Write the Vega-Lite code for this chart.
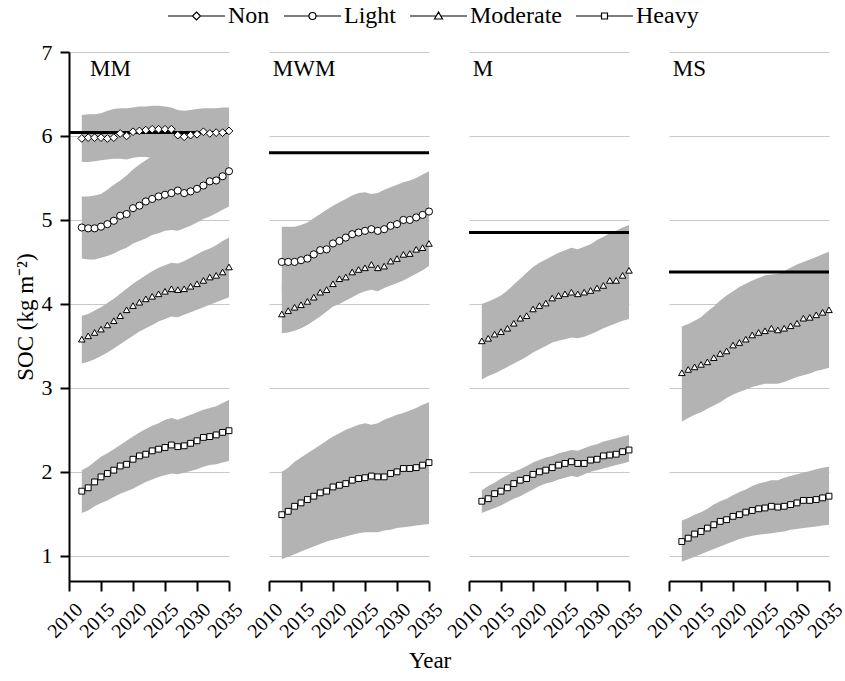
{
 "$schema": "https://vega.github.io/schema/vega-lite/v6.json",
 "background": "white",
 "padding": {"left": 14, "top": 4, "right": 3, "bottom": 6},
 "bounds": "flush",
 "spacing": 40,
 "config": {
  "view": {"stroke": null},
  "font": "Liberation Serif",
  "axis": {"labelColor": "black", "titleColor": "black", "labelFont": "Liberation Serif", "titleFont": "Liberation Serif", "titleFontWeight": "normal"},
  "axisX": {"labelAngle": -45, "grid": false, "tickSize": 10, "tickWidth": 2, "domainWidth": 2, "tickColor": "black", "domainColor": "black", "labelFontSize": 20, "labelPadding": 8, "labelOffset": 3, "labelFlush": false, "labelOverlap": false},
  "axisY": {"tickCount": 7, "titleFontSize": 23, "titlePadding": 4, "labelFontSize": 22, "labelPadding": 8, "tickSize": 9, "tickWidth": 2, "domainWidth": 2, "tickColor": "black", "domainColor": "black", "grid": true, "gridColor": "#c8c8c8", "gridWidth": 1}
 },
 "title": {"text": "Year", "orient": "bottom", "anchor": "middle", "fontSize": 23, "fontWeight": "normal", "font": "Liberation Serif", "color": "black", "offset": 9},
 "resolve": {"scale": {"shape": "independent"}, "legend": {"shape": "independent"}},
 "datasets": {
  "refs": [
   {"p": "MM", "ref": 6.04},
   {"p": "MWM", "ref": 5.80},
   {"p": "M", "ref": 4.85},
   {"p": "MS", "ref": 4.38}
  ],
  "series": [
   {"p":"MM","s":"Non","yr":2012,"v":5.97,"lo":5.69,"hi":6.25},
   {"p":"MM","s":"Non","yr":2013,"v":5.98,"lo":5.69,"hi":6.26},
   {"p":"MM","s":"Non","yr":2014,"v":5.98,"lo":5.70,"hi":6.26},
   {"p":"MM","s":"Non","yr":2015,"v":5.98,"lo":5.71,"hi":6.27},
   {"p":"MM","s":"Non","yr":2016,"v":5.97,"lo":5.72,"hi":6.30},
   {"p":"MM","s":"Non","yr":2017,"v":5.98,"lo":5.73,"hi":6.32},
   {"p":"MM","s":"Non","yr":2018,"v":6.03,"lo":5.73,"hi":6.33},
   {"p":"MM","s":"Non","yr":2019,"v":6.00,"lo":5.72,"hi":6.33},
   {"p":"MM","s":"Non","yr":2020,"v":6.05,"lo":5.74,"hi":6.34},
   {"p":"MM","s":"Non","yr":2021,"v":6.06,"lo":5.75,"hi":6.35},
   {"p":"MM","s":"Non","yr":2022,"v":6.07,"lo":5.75,"hi":6.35},
   {"p":"MM","s":"Non","yr":2023,"v":6.08,"lo":5.74,"hi":6.36},
   {"p":"MM","s":"Non","yr":2024,"v":6.08,"lo":5.74,"hi":6.36},
   {"p":"MM","s":"Non","yr":2025,"v":6.08,"lo":5.75,"hi":6.35},
   {"p":"MM","s":"Non","yr":2026,"v":6.08,"lo":5.74,"hi":6.34},
   {"p":"MM","s":"Non","yr":2027,"v":6.01,"lo":5.72,"hi":6.31},
   {"p":"MM","s":"Non","yr":2028,"v":5.99,"lo":5.72,"hi":6.30},
   {"p":"MM","s":"Non","yr":2029,"v":6.01,"lo":5.73,"hi":6.31},
   {"p":"MM","s":"Non","yr":2030,"v":6.02,"lo":5.74,"hi":6.32},
   {"p":"MM","s":"Non","yr":2031,"v":6.05,"lo":5.75,"hi":6.33},
   {"p":"MM","s":"Non","yr":2032,"v":6.03,"lo":5.75,"hi":6.33},
   {"p":"MM","s":"Non","yr":2033,"v":6.04,"lo":5.76,"hi":6.33},
   {"p":"MM","s":"Non","yr":2034,"v":6.04,"lo":5.76,"hi":6.34},
   {"p":"MM","s":"Non","yr":2035,"v":6.06,"lo":5.76,"hi":6.34},

   {"p":"MM","s":"Light","yr":2012,"v":4.91,"lo":4.54,"hi":5.28},
   {"p":"MM","s":"Light","yr":2013,"v":4.90,"lo":4.53,"hi":5.28},
   {"p":"MM","s":"Light","yr":2014,"v":4.90,"lo":4.53,"hi":5.29},
   {"p":"MM","s":"Light","yr":2015,"v":4.92,"lo":4.55,"hi":5.31},
   {"p":"MM","s":"Light","yr":2016,"v":4.95,"lo":4.57,"hi":5.36},
   {"p":"MM","s":"Light","yr":2017,"v":4.99,"lo":4.60,"hi":5.42},
   {"p":"MM","s":"Light","yr":2018,"v":5.05,"lo":4.64,"hi":5.47},
   {"p":"MM","s":"Light","yr":2019,"v":5.07,"lo":4.67,"hi":5.53},
   {"p":"MM","s":"Light","yr":2020,"v":5.14,"lo":4.72,"hi":5.60},
   {"p":"MM","s":"Light","yr":2021,"v":5.17,"lo":4.75,"hi":5.66},
   {"p":"MM","s":"Light","yr":2022,"v":5.22,"lo":4.78,"hi":5.71},
   {"p":"MM","s":"Light","yr":2023,"v":5.25,"lo":4.82,"hi":5.76},
   {"p":"MM","s":"Light","yr":2024,"v":5.28,"lo":4.84,"hi":5.82},
   {"p":"MM","s":"Light","yr":2025,"v":5.30,"lo":4.87,"hi":5.86},
   {"p":"MM","s":"Light","yr":2026,"v":5.32,"lo":4.88,"hi":5.88},
   {"p":"MM","s":"Light","yr":2027,"v":5.35,"lo":4.87,"hi":5.87},
   {"p":"MM","s":"Light","yr":2028,"v":5.32,"lo":4.90,"hi":5.90},
   {"p":"MM","s":"Light","yr":2029,"v":5.34,"lo":4.93,"hi":5.93},
   {"p":"MM","s":"Light","yr":2030,"v":5.37,"lo":4.97,"hi":5.96},
   {"p":"MM","s":"Light","yr":2031,"v":5.41,"lo":5.01,"hi":5.99},
   {"p":"MM","s":"Light","yr":2032,"v":5.46,"lo":5.04,"hi":6.02},
   {"p":"MM","s":"Light","yr":2033,"v":5.47,"lo":5.08,"hi":6.05},
   {"p":"MM","s":"Light","yr":2034,"v":5.52,"lo":5.12,"hi":6.08},
   {"p":"MM","s":"Light","yr":2035,"v":5.58,"lo":5.16,"hi":6.12},

   {"p":"MM","s":"Moderate","yr":2012,"v":3.58,"lo":3.29,"hi":3.86},
   {"p":"MM","s":"Moderate","yr":2013,"v":3.62,"lo":3.31,"hi":3.88},
   {"p":"MM","s":"Moderate","yr":2014,"v":3.66,"lo":3.34,"hi":3.92},
   {"p":"MM","s":"Moderate","yr":2015,"v":3.70,"lo":3.38,"hi":3.96},
   {"p":"MM","s":"Moderate","yr":2016,"v":3.75,"lo":3.42,"hi":4.01},
   {"p":"MM","s":"Moderate","yr":2017,"v":3.80,"lo":3.47,"hi":4.06},
   {"p":"MM","s":"Moderate","yr":2018,"v":3.86,"lo":3.52,"hi":4.12},
   {"p":"MM","s":"Moderate","yr":2019,"v":3.93,"lo":3.57,"hi":4.18},
   {"p":"MM","s":"Moderate","yr":2020,"v":3.98,"lo":3.62,"hi":4.24},
   {"p":"MM","s":"Moderate","yr":2021,"v":4.02,"lo":3.67,"hi":4.29},
   {"p":"MM","s":"Moderate","yr":2022,"v":4.06,"lo":3.71,"hi":4.34},
   {"p":"MM","s":"Moderate","yr":2023,"v":4.09,"lo":3.75,"hi":4.39},
   {"p":"MM","s":"Moderate","yr":2024,"v":4.12,"lo":3.79,"hi":4.43},
   {"p":"MM","s":"Moderate","yr":2025,"v":4.15,"lo":3.82,"hi":4.46},
   {"p":"MM","s":"Moderate","yr":2026,"v":4.18,"lo":3.85,"hi":4.49},
   {"p":"MM","s":"Moderate","yr":2027,"v":4.17,"lo":3.84,"hi":4.48},
   {"p":"MM","s":"Moderate","yr":2028,"v":4.18,"lo":3.87,"hi":4.51},
   {"p":"MM","s":"Moderate","yr":2029,"v":4.21,"lo":3.90,"hi":4.55},
   {"p":"MM","s":"Moderate","yr":2030,"v":4.24,"lo":3.93,"hi":4.59},
   {"p":"MM","s":"Moderate","yr":2031,"v":4.28,"lo":3.96,"hi":4.63},
   {"p":"MM","s":"Moderate","yr":2032,"v":4.32,"lo":3.99,"hi":4.66},
   {"p":"MM","s":"Moderate","yr":2033,"v":4.34,"lo":4.02,"hi":4.70},
   {"p":"MM","s":"Moderate","yr":2034,"v":4.38,"lo":4.05,"hi":4.75},
   {"p":"MM","s":"Moderate","yr":2035,"v":4.44,"lo":4.08,"hi":4.79},

   {"p":"MM","s":"Heavy","yr":2012,"v":1.77,"lo":1.51,"hi":2.02},
   {"p":"MM","s":"Heavy","yr":2013,"v":1.81,"lo":1.54,"hi":2.06},
   {"p":"MM","s":"Heavy","yr":2014,"v":1.88,"lo":1.59,"hi":2.12},
   {"p":"MM","s":"Heavy","yr":2015,"v":1.94,"lo":1.63,"hi":2.18},
   {"p":"MM","s":"Heavy","yr":2016,"v":1.98,"lo":1.66,"hi":2.22},
   {"p":"MM","s":"Heavy","yr":2017,"v":2.02,"lo":1.70,"hi":2.27},
   {"p":"MM","s":"Heavy","yr":2018,"v":2.07,"lo":1.74,"hi":2.32},
   {"p":"MM","s":"Heavy","yr":2019,"v":2.09,"lo":1.77,"hi":2.37},
   {"p":"MM","s":"Heavy","yr":2020,"v":2.15,"lo":1.80,"hi":2.42},
   {"p":"MM","s":"Heavy","yr":2021,"v":2.19,"lo":1.84,"hi":2.47},
   {"p":"MM","s":"Heavy","yr":2022,"v":2.21,"lo":1.88,"hi":2.51},
   {"p":"MM","s":"Heavy","yr":2023,"v":2.25,"lo":1.91,"hi":2.55},
   {"p":"MM","s":"Heavy","yr":2024,"v":2.27,"lo":1.94,"hi":2.58},
   {"p":"MM","s":"Heavy","yr":2025,"v":2.29,"lo":1.96,"hi":2.62},
   {"p":"MM","s":"Heavy","yr":2026,"v":2.32,"lo":1.98,"hi":2.64},
   {"p":"MM","s":"Heavy","yr":2027,"v":2.30,"lo":1.97,"hi":2.62},
   {"p":"MM","s":"Heavy","yr":2028,"v":2.31,"lo":1.99,"hi":2.65},
   {"p":"MM","s":"Heavy","yr":2029,"v":2.34,"lo":2.01,"hi":2.68},
   {"p":"MM","s":"Heavy","yr":2030,"v":2.37,"lo":2.03,"hi":2.71},
   {"p":"MM","s":"Heavy","yr":2031,"v":2.41,"lo":2.06,"hi":2.74},
   {"p":"MM","s":"Heavy","yr":2032,"v":2.42,"lo":2.08,"hi":2.76},
   {"p":"MM","s":"Heavy","yr":2033,"v":2.44,"lo":2.09,"hi":2.78},
   {"p":"MM","s":"Heavy","yr":2034,"v":2.47,"lo":2.11,"hi":2.82},
   {"p":"MM","s":"Heavy","yr":2035,"v":2.49,"lo":2.13,"hi":2.86},

   {"p":"MWM","s":"Light","yr":2012,"v":4.50,"lo":4.15,"hi":4.92},
   {"p":"MWM","s":"Light","yr":2013,"v":4.50,"lo":4.15,"hi":4.92},
   {"p":"MWM","s":"Light","yr":2014,"v":4.50,"lo":4.15,"hi":4.92},
   {"p":"MWM","s":"Light","yr":2015,"v":4.52,"lo":4.17,"hi":4.94},
   {"p":"MWM","s":"Light","yr":2016,"v":4.54,"lo":4.19,"hi":4.97},
   {"p":"MWM","s":"Light","yr":2017,"v":4.59,"lo":4.24,"hi":5.02},
   {"p":"MWM","s":"Light","yr":2018,"v":4.64,"lo":4.29,"hi":5.07},
   {"p":"MWM","s":"Light","yr":2019,"v":4.65,"lo":4.30,"hi":5.12},
   {"p":"MWM","s":"Light","yr":2020,"v":4.72,"lo":4.37,"hi":5.17},
   {"p":"MWM","s":"Light","yr":2021,"v":4.75,"lo":4.40,"hi":5.21},
   {"p":"MWM","s":"Light","yr":2022,"v":4.79,"lo":4.44,"hi":5.25},
   {"p":"MWM","s":"Light","yr":2023,"v":4.83,"lo":4.48,"hi":5.29},
   {"p":"MWM","s":"Light","yr":2024,"v":4.85,"lo":4.50,"hi":5.32},
   {"p":"MWM","s":"Light","yr":2025,"v":4.87,"lo":4.52,"hi":5.33},
   {"p":"MWM","s":"Light","yr":2026,"v":4.89,"lo":4.54,"hi":5.31},
   {"p":"MWM","s":"Light","yr":2027,"v":4.87,"lo":4.52,"hi":5.32},
   {"p":"MWM","s":"Light","yr":2028,"v":4.89,"lo":4.54,"hi":5.36},
   {"p":"MWM","s":"Light","yr":2029,"v":4.93,"lo":4.58,"hi":5.39},
   {"p":"MWM","s":"Light","yr":2030,"v":4.95,"lo":4.60,"hi":5.42},
   {"p":"MWM","s":"Light","yr":2031,"v":5.00,"lo":4.65,"hi":5.45},
   {"p":"MWM","s":"Light","yr":2032,"v":5.00,"lo":4.65,"hi":5.47},
   {"p":"MWM","s":"Light","yr":2033,"v":5.03,"lo":4.68,"hi":5.50},
   {"p":"MWM","s":"Light","yr":2034,"v":5.06,"lo":4.71,"hi":5.54},
   {"p":"MWM","s":"Light","yr":2035,"v":5.10,"lo":4.75,"hi":5.58},

   {"p":"MWM","s":"Moderate","yr":2012,"v":3.88,"lo":3.65,"hi":4.23},
   {"p":"MWM","s":"Moderate","yr":2013,"v":3.92,"lo":3.66,"hi":4.27},
   {"p":"MWM","s":"Moderate","yr":2014,"v":3.96,"lo":3.68,"hi":4.31},
   {"p":"MWM","s":"Moderate","yr":2015,"v":3.99,"lo":3.71,"hi":4.34},
   {"p":"MWM","s":"Moderate","yr":2016,"v":4.03,"lo":3.75,"hi":4.38},
   {"p":"MWM","s":"Moderate","yr":2017,"v":4.08,"lo":3.80,"hi":4.43},
   {"p":"MWM","s":"Moderate","yr":2018,"v":4.14,"lo":3.85,"hi":4.49},
   {"p":"MWM","s":"Moderate","yr":2019,"v":4.17,"lo":3.91,"hi":4.52},
   {"p":"MWM","s":"Moderate","yr":2020,"v":4.24,"lo":3.97,"hi":4.59},
   {"p":"MWM","s":"Moderate","yr":2021,"v":4.30,"lo":4.00,"hi":4.65},
   {"p":"MWM","s":"Moderate","yr":2022,"v":4.32,"lo":4.04,"hi":4.67},
   {"p":"MWM","s":"Moderate","yr":2023,"v":4.38,"lo":4.08,"hi":4.73},
   {"p":"MWM","s":"Moderate","yr":2024,"v":4.41,"lo":4.12,"hi":4.76},
   {"p":"MWM","s":"Moderate","yr":2025,"v":4.43,"lo":4.15,"hi":4.78},
   {"p":"MWM","s":"Moderate","yr":2026,"v":4.47,"lo":4.17,"hi":4.82},
   {"p":"MWM","s":"Moderate","yr":2027,"v":4.43,"lo":4.15,"hi":4.78},
   {"p":"MWM","s":"Moderate","yr":2028,"v":4.45,"lo":4.19,"hi":4.80},
   {"p":"MWM","s":"Moderate","yr":2029,"v":4.51,"lo":4.22,"hi":4.86},
   {"p":"MWM","s":"Moderate","yr":2030,"v":4.54,"lo":4.25,"hi":4.89},
   {"p":"MWM","s":"Moderate","yr":2031,"v":4.59,"lo":4.28,"hi":4.94},
   {"p":"MWM","s":"Moderate","yr":2032,"v":4.60,"lo":4.32,"hi":4.95},
   {"p":"MWM","s":"Moderate","yr":2033,"v":4.65,"lo":4.36,"hi":5.00},
   {"p":"MWM","s":"Moderate","yr":2034,"v":4.67,"lo":4.40,"hi":5.02},
   {"p":"MWM","s":"Moderate","yr":2035,"v":4.72,"lo":4.45,"hi":5.07},

   {"p":"MWM","s":"Heavy","yr":2012,"v":1.49,"lo":0.96,"hi":2.00},
   {"p":"MWM","s":"Heavy","yr":2013,"v":1.53,"lo":0.99,"hi":2.05},
   {"p":"MWM","s":"Heavy","yr":2014,"v":1.59,"lo":1.02,"hi":2.12},
   {"p":"MWM","s":"Heavy","yr":2015,"v":1.63,"lo":1.05,"hi":2.17},
   {"p":"MWM","s":"Heavy","yr":2016,"v":1.67,"lo":1.08,"hi":2.22},
   {"p":"MWM","s":"Heavy","yr":2017,"v":1.71,"lo":1.11,"hi":2.27},
   {"p":"MWM","s":"Heavy","yr":2018,"v":1.75,"lo":1.14,"hi":2.32},
   {"p":"MWM","s":"Heavy","yr":2019,"v":1.77,"lo":1.17,"hi":2.37},
   {"p":"MWM","s":"Heavy","yr":2020,"v":1.82,"lo":1.19,"hi":2.42},
   {"p":"MWM","s":"Heavy","yr":2021,"v":1.84,"lo":1.21,"hi":2.46},
   {"p":"MWM","s":"Heavy","yr":2022,"v":1.86,"lo":1.23,"hi":2.50},
   {"p":"MWM","s":"Heavy","yr":2023,"v":1.90,"lo":1.25,"hi":2.53},
   {"p":"MWM","s":"Heavy","yr":2024,"v":1.92,"lo":1.27,"hi":2.56},
   {"p":"MWM","s":"Heavy","yr":2025,"v":1.93,"lo":1.28,"hi":2.58},
   {"p":"MWM","s":"Heavy","yr":2026,"v":1.95,"lo":1.28,"hi":2.56},
   {"p":"MWM","s":"Heavy","yr":2027,"v":1.94,"lo":1.28,"hi":2.58},
   {"p":"MWM","s":"Heavy","yr":2028,"v":1.94,"lo":1.30,"hi":2.62},
   {"p":"MWM","s":"Heavy","yr":2029,"v":1.98,"lo":1.31,"hi":2.65},
   {"p":"MWM","s":"Heavy","yr":2030,"v":2.00,"lo":1.33,"hi":2.68},
   {"p":"MWM","s":"Heavy","yr":2031,"v":2.04,"lo":1.34,"hi":2.70},
   {"p":"MWM","s":"Heavy","yr":2032,"v":2.04,"lo":1.35,"hi":2.73},
   {"p":"MWM","s":"Heavy","yr":2033,"v":2.05,"lo":1.36,"hi":2.76},
   {"p":"MWM","s":"Heavy","yr":2034,"v":2.08,"lo":1.37,"hi":2.80},
   {"p":"MWM","s":"Heavy","yr":2035,"v":2.11,"lo":1.38,"hi":2.83},

   {"p":"M","s":"Moderate","yr":2012,"v":3.56,"lo":3.10,"hi":4.00},
   {"p":"M","s":"Moderate","yr":2013,"v":3.59,"lo":3.14,"hi":4.03},
   {"p":"M","s":"Moderate","yr":2014,"v":3.64,"lo":3.17,"hi":4.06},
   {"p":"M","s":"Moderate","yr":2015,"v":3.67,"lo":3.21,"hi":4.10},
   {"p":"M","s":"Moderate","yr":2016,"v":3.71,"lo":3.25,"hi":4.16},
   {"p":"M","s":"Moderate","yr":2017,"v":3.77,"lo":3.29,"hi":4.23},
   {"p":"M","s":"Moderate","yr":2018,"v":3.83,"lo":3.33,"hi":4.30},
   {"p":"M","s":"Moderate","yr":2019,"v":3.86,"lo":3.37,"hi":4.37},
   {"p":"M","s":"Moderate","yr":2020,"v":3.94,"lo":3.42,"hi":4.44},
   {"p":"M","s":"Moderate","yr":2021,"v":3.98,"lo":3.46,"hi":4.49},
   {"p":"M","s":"Moderate","yr":2022,"v":4.01,"lo":3.50,"hi":4.53},
   {"p":"M","s":"Moderate","yr":2023,"v":4.07,"lo":3.54,"hi":4.57},
   {"p":"M","s":"Moderate","yr":2024,"v":4.10,"lo":3.56,"hi":4.61},
   {"p":"M","s":"Moderate","yr":2025,"v":4.12,"lo":3.58,"hi":4.64},
   {"p":"M","s":"Moderate","yr":2026,"v":4.14,"lo":3.60,"hi":4.67},
   {"p":"M","s":"Moderate","yr":2027,"v":4.12,"lo":3.59,"hi":4.65},
   {"p":"M","s":"Moderate","yr":2028,"v":4.14,"lo":3.61,"hi":4.68},
   {"p":"M","s":"Moderate","yr":2029,"v":4.16,"lo":3.64,"hi":4.71},
   {"p":"M","s":"Moderate","yr":2030,"v":4.19,"lo":3.67,"hi":4.76},
   {"p":"M","s":"Moderate","yr":2031,"v":4.22,"lo":3.71,"hi":4.80},
   {"p":"M","s":"Moderate","yr":2032,"v":4.28,"lo":3.74,"hi":4.84},
   {"p":"M","s":"Moderate","yr":2033,"v":4.28,"lo":3.77,"hi":4.87},
   {"p":"M","s":"Moderate","yr":2034,"v":4.34,"lo":3.80,"hi":4.91},
   {"p":"M","s":"Moderate","yr":2035,"v":4.40,"lo":3.82,"hi":4.94},

   {"p":"M","s":"Heavy","yr":2012,"v":1.65,"lo":1.51,"hi":1.78},
   {"p":"M","s":"Heavy","yr":2013,"v":1.68,"lo":1.54,"hi":1.83},
   {"p":"M","s":"Heavy","yr":2014,"v":1.74,"lo":1.57,"hi":1.87},
   {"p":"M","s":"Heavy","yr":2015,"v":1.77,"lo":1.60,"hi":1.92},
   {"p":"M","s":"Heavy","yr":2016,"v":1.81,"lo":1.64,"hi":1.96},
   {"p":"M","s":"Heavy","yr":2017,"v":1.86,"lo":1.68,"hi":2.00},
   {"p":"M","s":"Heavy","yr":2018,"v":1.90,"lo":1.71,"hi":2.03},
   {"p":"M","s":"Heavy","yr":2019,"v":1.92,"lo":1.75,"hi":2.07},
   {"p":"M","s":"Heavy","yr":2020,"v":1.97,"lo":1.79,"hi":2.11},
   {"p":"M","s":"Heavy","yr":2021,"v":2.00,"lo":1.83,"hi":2.14},
   {"p":"M","s":"Heavy","yr":2022,"v":2.02,"lo":1.86,"hi":2.17},
   {"p":"M","s":"Heavy","yr":2023,"v":2.05,"lo":1.88,"hi":2.19},
   {"p":"M","s":"Heavy","yr":2024,"v":2.08,"lo":1.91,"hi":2.22},
   {"p":"M","s":"Heavy","yr":2025,"v":2.10,"lo":1.93,"hi":2.24},
   {"p":"M","s":"Heavy","yr":2026,"v":2.12,"lo":1.95,"hi":2.26},
   {"p":"M","s":"Heavy","yr":2027,"v":2.10,"lo":1.94,"hi":2.25},
   {"p":"M","s":"Heavy","yr":2028,"v":2.10,"lo":1.97,"hi":2.28},
   {"p":"M","s":"Heavy","yr":2029,"v":2.14,"lo":2.00,"hi":2.31},
   {"p":"M","s":"Heavy","yr":2030,"v":2.15,"lo":2.02,"hi":2.33},
   {"p":"M","s":"Heavy","yr":2031,"v":2.19,"lo":2.04,"hi":2.36},
   {"p":"M","s":"Heavy","yr":2032,"v":2.20,"lo":2.06,"hi":2.38},
   {"p":"M","s":"Heavy","yr":2033,"v":2.21,"lo":2.08,"hi":2.40},
   {"p":"M","s":"Heavy","yr":2034,"v":2.24,"lo":2.10,"hi":2.42},
   {"p":"M","s":"Heavy","yr":2035,"v":2.26,"lo":2.12,"hi":2.44},

   {"p":"MS","s":"Moderate","yr":2012,"v":3.18,"lo":2.60,"hi":3.73},
   {"p":"MS","s":"Moderate","yr":2013,"v":3.22,"lo":2.64,"hi":3.76},
   {"p":"MS","s":"Moderate","yr":2014,"v":3.25,"lo":2.68,"hi":3.80},
   {"p":"MS","s":"Moderate","yr":2015,"v":3.28,"lo":2.71,"hi":3.84},
   {"p":"MS","s":"Moderate","yr":2016,"v":3.31,"lo":2.75,"hi":3.91},
   {"p":"MS","s":"Moderate","yr":2017,"v":3.36,"lo":2.79,"hi":3.97},
   {"p":"MS","s":"Moderate","yr":2018,"v":3.41,"lo":2.83,"hi":4.04},
   {"p":"MS","s":"Moderate","yr":2019,"v":3.44,"lo":2.88,"hi":4.10},
   {"p":"MS","s":"Moderate","yr":2020,"v":3.51,"lo":2.92,"hi":4.15},
   {"p":"MS","s":"Moderate","yr":2021,"v":3.54,"lo":2.95,"hi":4.20},
   {"p":"MS","s":"Moderate","yr":2022,"v":3.58,"lo":2.98,"hi":4.24},
   {"p":"MS","s":"Moderate","yr":2023,"v":3.63,"lo":3.01,"hi":4.28},
   {"p":"MS","s":"Moderate","yr":2024,"v":3.66,"lo":3.03,"hi":4.31},
   {"p":"MS","s":"Moderate","yr":2025,"v":3.68,"lo":3.05,"hi":4.34},
   {"p":"MS","s":"Moderate","yr":2026,"v":3.71,"lo":3.05,"hi":4.35},
   {"p":"MS","s":"Moderate","yr":2027,"v":3.69,"lo":3.05,"hi":4.36},
   {"p":"MS","s":"Moderate","yr":2028,"v":3.71,"lo":3.07,"hi":4.39},
   {"p":"MS","s":"Moderate","yr":2029,"v":3.74,"lo":3.10,"hi":4.43},
   {"p":"MS","s":"Moderate","yr":2030,"v":3.77,"lo":3.13,"hi":4.47},
   {"p":"MS","s":"Moderate","yr":2031,"v":3.83,"lo":3.15,"hi":4.50},
   {"p":"MS","s":"Moderate","yr":2032,"v":3.84,"lo":3.17,"hi":4.53},
   {"p":"MS","s":"Moderate","yr":2033,"v":3.87,"lo":3.20,"hi":4.56},
   {"p":"MS","s":"Moderate","yr":2034,"v":3.90,"lo":3.22,"hi":4.59},
   {"p":"MS","s":"Moderate","yr":2035,"v":3.93,"lo":3.24,"hi":4.62},

   {"p":"MS","s":"Heavy","yr":2012,"v":1.17,"lo":0.93,"hi":1.42},
   {"p":"MS","s":"Heavy","yr":2013,"v":1.21,"lo":0.96,"hi":1.45},
   {"p":"MS","s":"Heavy","yr":2014,"v":1.26,"lo":0.99,"hi":1.49},
   {"p":"MS","s":"Heavy","yr":2015,"v":1.29,"lo":1.02,"hi":1.52},
   {"p":"MS","s":"Heavy","yr":2016,"v":1.33,"lo":1.05,"hi":1.56},
   {"p":"MS","s":"Heavy","yr":2017,"v":1.37,"lo":1.08,"hi":1.61},
   {"p":"MS","s":"Heavy","yr":2018,"v":1.41,"lo":1.11,"hi":1.65},
   {"p":"MS","s":"Heavy","yr":2019,"v":1.43,"lo":1.14,"hi":1.68},
   {"p":"MS","s":"Heavy","yr":2020,"v":1.47,"lo":1.17,"hi":1.72},
   {"p":"MS","s":"Heavy","yr":2021,"v":1.49,"lo":1.20,"hi":1.76},
   {"p":"MS","s":"Heavy","yr":2022,"v":1.52,"lo":1.22,"hi":1.79},
   {"p":"MS","s":"Heavy","yr":2023,"v":1.54,"lo":1.24,"hi":1.83},
   {"p":"MS","s":"Heavy","yr":2024,"v":1.56,"lo":1.25,"hi":1.86},
   {"p":"MS","s":"Heavy","yr":2025,"v":1.57,"lo":1.26,"hi":1.88},
   {"p":"MS","s":"Heavy","yr":2026,"v":1.59,"lo":1.27,"hi":1.90},
   {"p":"MS","s":"Heavy","yr":2027,"v":1.58,"lo":1.28,"hi":1.90},
   {"p":"MS","s":"Heavy","yr":2028,"v":1.59,"lo":1.29,"hi":1.93},
   {"p":"MS","s":"Heavy","yr":2029,"v":1.61,"lo":1.31,"hi":1.95},
   {"p":"MS","s":"Heavy","yr":2030,"v":1.63,"lo":1.32,"hi":1.97},
   {"p":"MS","s":"Heavy","yr":2031,"v":1.66,"lo":1.33,"hi":1.99},
   {"p":"MS","s":"Heavy","yr":2032,"v":1.66,"lo":1.34,"hi":2.01},
   {"p":"MS","s":"Heavy","yr":2033,"v":1.67,"lo":1.35,"hi":2.03},
   {"p":"MS","s":"Heavy","yr":2034,"v":1.69,"lo":1.36,"hi":2.05},
   {"p":"MS","s":"Heavy","yr":2035,"v":1.71,"lo":1.37,"hi":2.06}
  ]
 },
 "hconcat": [
  {
   "width": 160, "height": 529,
   "resolve": {"scale": {"shape": "independent"}, "legend": {"shape": "independent"}},
   "layer": [
    {"data": {"name": "series"}, "transform": [{"filter": "datum.p === 'MM'"}],
     "mark": {"type": "area", "color": "#b3b3b3", "opacity": 1},
     "encoding": {
      "x": {"field": "yr", "type": "quantitative", "scale": {"domain": [2010, 2035], "nice": false, "zero": false}, "axis": {"title": null, "values": [2010, 2015, 2020, 2025, 2030, 2035], "format": "d"}},
      "y": {"field": "lo", "type": "quantitative", "scale": {"domain": [0.7, 7], "nice": false, "zero": false}, "axis": {"title": "SOC (kg m⁻²)"}},
      "y2": {"field": "hi"},
      "detail": {"field": "s"}
     }},
    {"data": {"name": "refs"}, "transform": [{"filter": "datum.p === 'MM'"}],
     "mark": {"type": "rule", "color": "black", "strokeWidth": 3},
     "encoding": {"y": {"field": "ref", "type": "quantitative", "axis": {"title": "SOC (kg m⁻²)"}}}},
    {"data": {"name": "refs"}, "transform": [{"filter": "datum.p === 'MM'"}],
     "mark": {"type": "text", "align": "left", "baseline": "alphabetic", "fontSize": 23, "color": "black"},
     "encoding": {"x": {"datum": 2013.3, "type": "quantitative", "axis": {"title": null, "values": [2010, 2015, 2020, 2025, 2030, 2035], "format": "d"}}, "y": {"datum": 6.71, "type": "quantitative", "axis": {"title": "SOC (kg m⁻²)"}}, "text": {"field": "p"}}},
    {"data": {"name": "series"}, "transform": [{"filter": "datum.p === 'MM'"}],
     "mark": {"type": "point", "filled": true, "fill": "white", "stroke": "black", "strokeWidth": 1, "opacity": 1},
     "encoding": {
      "x": {"field": "yr", "type": "quantitative", "axis": {"title": null, "values": [2010, 2015, 2020, 2025, 2030, 2035], "format": "d"}},
      "y": {"field": "v", "type": "quantitative", "axis": {"title": "SOC (kg m⁻²)"}},
      "shape": {"field": "s", "type": "nominal", "scale": {"domain": ["Non", "Light", "Moderate", "Heavy"], "range": ["diamond", "circle", "triangle-up", "square"]}, "legend": null},
      "size": {"field": "s", "type": "nominal", "scale": {"domain": ["Non", "Light", "Moderate", "Heavy"], "range": [60, 34, 58, 40]}, "legend": null}
     }},
    {"data": {"name": "series"}, "transform": [{"filter": "datum.p === 'none'"}],
     "mark": {"type": "point", "filled": false, "color": "black", "strokeWidth": 1.2, "opacity": 1},
     "encoding": {
      "shape": {"field": "s", "type": "nominal",
        "scale": {"domain": ["Non", "Light", "Moderate", "Heavy"],
                  "range": ["M-1,0H5.125M7.125,0H13.25M6.125,-1L7.125,0L6.125,1L5.125,0Z",
                            "M-1,0H5.25M7,0H13.25M7,0A0.875,0.875,0,1,1,5.25,0A0.875,0.875,0,1,1,7,0Z",
                            "M-1,0H5.55M6.7,0H13.25M5.125,0.75L6.125,-1L7.125,0.75Z",
                            "M-1,0H5.375M6.875,0H13.25M5.375,-0.75H6.875V0.75H5.375Z"]},
        "legend": {"orient": "none", "legendX": 91, "legendY": -48, "direction": "horizontal", "title": null,
                   "symbolSize": 64, "symbolStrokeColor": "black", "symbolStrokeWidth": 1.2, "symbolOpacity": 1,
                   "labelFontSize": 24, "labelColor": "black", "labelFont": "Liberation Serif", "labelOffset": 44, "columnPadding": 6}}
     }}
   ]
  },
  {
   "width": 160, "height": 529,
   "layer": [
    {"data": {"name": "series"}, "transform": [{"filter": "datum.p === 'MWM'"}],
     "mark": {"type": "area", "color": "#b3b3b3", "opacity": 1},
     "encoding": {
      "x": {"field": "yr", "type": "quantitative", "scale": {"domain": [2010, 2035], "nice": false, "zero": false}, "axis": {"title": null, "values": [2010, 2015, 2020, 2025, 2030, 2035], "format": "d"}},
      "y": {"field": "lo", "type": "quantitative", "scale": {"domain": [0.7, 7], "nice": false, "zero": false}, "axis": {"title": null, "labels": false, "ticks": false, "domain": false}},
      "y2": {"field": "hi"},
      "detail": {"field": "s"}
     }},
    {"data": {"name": "refs"}, "transform": [{"filter": "datum.p === 'MWM'"}],
     "mark": {"type": "rule", "color": "black", "strokeWidth": 3},
     "encoding": {"y": {"field": "ref", "type": "quantitative", "axis": {"title": null, "labels": false, "ticks": false, "domain": false}}}},
    {"data": {"name": "refs"}, "transform": [{"filter": "datum.p === 'MWM'"}],
     "mark": {"type": "text", "align": "left", "baseline": "alphabetic", "fontSize": 23, "color": "black"},
     "encoding": {"x": {"datum": 2010.6, "type": "quantitative", "axis": {"title": null, "values": [2010, 2015, 2020, 2025, 2030, 2035], "format": "d"}}, "y": {"datum": 6.71, "type": "quantitative", "axis": {"title": null, "labels": false, "ticks": false, "domain": false}}, "text": {"field": "p"}}},
    {"data": {"name": "series"}, "transform": [{"filter": "datum.p === 'MWM'"}],
     "mark": {"type": "point", "filled": true, "fill": "white", "stroke": "black", "strokeWidth": 1, "opacity": 1},
     "encoding": {
      "x": {"field": "yr", "type": "quantitative", "axis": {"title": null, "values": [2010, 2015, 2020, 2025, 2030, 2035], "format": "d"}},
      "y": {"field": "v", "type": "quantitative", "axis": {"title": null, "labels": false, "ticks": false, "domain": false}},
      "shape": {"field": "s", "type": "nominal", "scale": {"domain": ["Non", "Light", "Moderate", "Heavy"], "range": ["diamond", "circle", "triangle-up", "square"]}, "legend": null},
      "size": {"field": "s", "type": "nominal", "scale": {"domain": ["Non", "Light", "Moderate", "Heavy"], "range": [60, 34, 58, 40]}, "legend": null}
     }}
   ]
  },
  {
   "width": 160, "height": 529,
   "layer": [
    {"data": {"name": "series"}, "transform": [{"filter": "datum.p === 'M'"}],
     "mark": {"type": "area", "color": "#b3b3b3", "opacity": 1},
     "encoding": {
      "x": {"field": "yr", "type": "quantitative", "scale": {"domain": [2010, 2035], "nice": false, "zero": false}, "axis": {"title": null, "values": [2010, 2015, 2020, 2025, 2030, 2035], "format": "d"}},
      "y": {"field": "lo", "type": "quantitative", "scale": {"domain": [0.7, 7], "nice": false, "zero": false}, "axis": {"title": null, "labels": false, "ticks": false, "domain": false}},
      "y2": {"field": "hi"},
      "detail": {"field": "s"}
     }},
    {"data": {"name": "refs"}, "transform": [{"filter": "datum.p === 'M'"}],
     "mark": {"type": "rule", "color": "black", "strokeWidth": 3},
     "encoding": {"y": {"field": "ref", "type": "quantitative", "axis": {"title": null, "labels": false, "ticks": false, "domain": false}}}},
    {"data": {"name": "refs"}, "transform": [{"filter": "datum.p === 'M'"}],
     "mark": {"type": "text", "align": "left", "baseline": "alphabetic", "fontSize": 23, "color": "black"},
     "encoding": {"x": {"datum": 2010.6, "type": "quantitative", "axis": {"title": null, "values": [2010, 2015, 2020, 2025, 2030, 2035], "format": "d"}}, "y": {"datum": 6.71, "type": "quantitative", "axis": {"title": null, "labels": false, "ticks": false, "domain": false}}, "text": {"field": "p"}}},
    {"data": {"name": "series"}, "transform": [{"filter": "datum.p === 'M'"}],
     "mark": {"type": "point", "filled": true, "fill": "white", "stroke": "black", "strokeWidth": 1, "opacity": 1},
     "encoding": {
      "x": {"field": "yr", "type": "quantitative", "axis": {"title": null, "values": [2010, 2015, 2020, 2025, 2030, 2035], "format": "d"}},
      "y": {"field": "v", "type": "quantitative", "axis": {"title": null, "labels": false, "ticks": false, "domain": false}},
      "shape": {"field": "s", "type": "nominal", "scale": {"domain": ["Non", "Light", "Moderate", "Heavy"], "range": ["diamond", "circle", "triangle-up", "square"]}, "legend": null},
      "size": {"field": "s", "type": "nominal", "scale": {"domain": ["Non", "Light", "Moderate", "Heavy"], "range": [60, 34, 58, 40]}, "legend": null}
     }}
   ]
  },
  {
   "width": 160, "height": 529,
   "layer": [
    {"data": {"name": "series"}, "transform": [{"filter": "datum.p === 'MS'"}],
     "mark": {"type": "area", "color": "#b3b3b3", "opacity": 1},
     "encoding": {
      "x": {"field": "yr", "type": "quantitative", "scale": {"domain": [2010, 2035], "nice": false, "zero": false}, "axis": {"title": null, "values": [2010, 2015, 2020, 2025, 2030, 2035], "format": "d"}},
      "y": {"field": "lo", "type": "quantitative", "scale": {"domain": [0.7, 7], "nice": false, "zero": false}, "axis": {"title": null, "labels": false, "ticks": false, "domain": false}},
      "y2": {"field": "hi"},
      "detail": {"field": "s"}
     }},
    {"data": {"name": "refs"}, "transform": [{"filter": "datum.p === 'MS'"}],
     "mark": {"type": "rule", "color": "black", "strokeWidth": 3},
     "encoding": {"y": {"field": "ref", "type": "quantitative", "axis": {"title": null, "labels": false, "ticks": false, "domain": false}}}},
    {"data": {"name": "refs"}, "transform": [{"filter": "datum.p === 'MS'"}],
     "mark": {"type": "text", "align": "left", "baseline": "alphabetic", "fontSize": 23, "color": "black"},
     "encoding": {"x": {"datum": 2010.6, "type": "quantitative", "axis": {"title": null, "values": [2010, 2015, 2020, 2025, 2030, 2035], "format": "d"}}, "y": {"datum": 6.71, "type": "quantitative", "axis": {"title": null, "labels": false, "ticks": false, "domain": false}}, "text": {"field": "p"}}},
    {"data": {"name": "series"}, "transform": [{"filter": "datum.p === 'MS'"}],
     "mark": {"type": "point", "filled": true, "fill": "white", "stroke": "black", "strokeWidth": 1, "opacity": 1},
     "encoding": {
      "x": {"field": "yr", "type": "quantitative", "axis": {"title": null, "values": [2010, 2015, 2020, 2025, 2030, 2035], "format": "d"}},
      "y": {"field": "v", "type": "quantitative", "axis": {"title": null, "labels": false, "ticks": false, "domain": false}},
      "shape": {"field": "s", "type": "nominal", "scale": {"domain": ["Non", "Light", "Moderate", "Heavy"], "range": ["diamond", "circle", "triangle-up", "square"]}, "legend": null},
      "size": {"field": "s", "type": "nominal", "scale": {"domain": ["Non", "Light", "Moderate", "Heavy"], "range": [60, 34, 58, 40]}, "legend": null}
     }}
   ]
  }
 ]
}
